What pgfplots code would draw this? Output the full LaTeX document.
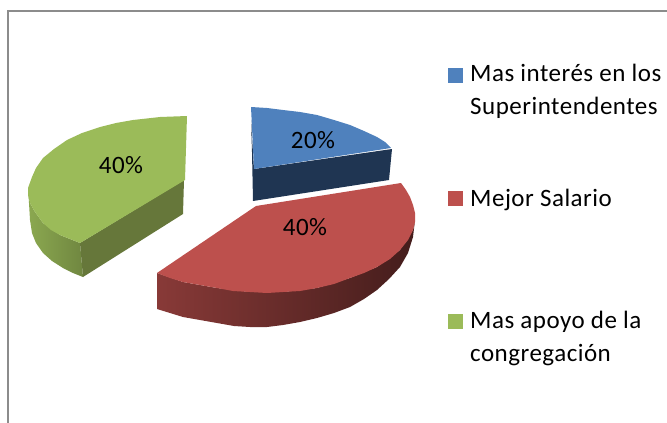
\documentclass[border=0pt]{standalone}
\usepackage{fontspec}
\setmainfont{Carlito}[LetterSpace=2]
\usepackage{pgfplots}
\pgfplotsset{compat=1.18}
\definecolor{azul}{HTML}{4F81BD}
\definecolor{azuloscuro}{HTML}{1F3552}
\definecolor{rojo}{HTML}{BD504D}
\definecolor{verde}{HTML}{9BBB59}
\definecolor{verdeoscuro}{HTML}{66773A}
\definecolor{marco}{HTML}{8C8C8C}
\newcommand{\legendfont}{\fontsize{25bp}{32bp}\selectfont}
\begin{document}
\begin{tikzpicture}[x=1bp,y=1bp]
\begin{axis}[
    scale only axis,
    width=667bp,
    height=423bp,
    xmin=0, xmax=667,
    ymin=0, ymax=423,
    y dir=reverse,
    hide axis,
]
% hide axis drops the box from the bounding box, so keep the full page
\path (rel axis cs:0,0) rectangle (rel axis cs:1,1);

% frame
\addplot[marco,line width=2bp,no marks] coordinates {(667,11) (8,11) (8,423)};

% green slice: outer side, inner side, top
\addplot[draw=none,left color=verde!90!black,right color=verde!72!black,no marks] coordinates {
    (28,188) (29,203) (30,220) (32,233) (36,243) (43,253) (52,261) (63,268) (73,273) (83,277)
    (80,243) (60,235) (43,223) (35,212) (30,203)
} --cycle;
\addplot[fill=verdeoscuro,draw=none,no marks] coordinates {
    (80,243) (83,277) (183,214) (184,180)
} --cycle;
\addplot[fill=verde,draw=none,no marks] coordinates {
    (187,116) (160,117) (133,120) (116,123) (100,127) (82,133) (67,140) (54,149) (43,158)
    (36,168) (32,177) (28,188) (28,195) (30,203) (35,212) (43,223) (51,230) (60,235)
    (70,239) (80,243) (185,180)
} --cycle;

% blue slice
\addplot[fill=azuloscuro,draw=none,no marks] coordinates {
    (251,120) (254,169) (392,149) (389,180) (253,201) (252,152)
} --cycle;
\addplot[fill=azul,draw=none,no marks] coordinates {
    (251,107) (267,108) (283,110) (300,112) (317,115) (334,120) (350,125) (364,131)
    (377,137) (385,142) (391,148) (254,169)
} --cycle;

% red slice
\addplot[draw=none,left color=rojo!72!black,middle color=rojo!42!black,right color=rojo!36!black,no marks] coordinates {
    (157,273) (157,309) (183,317) (200,320) (217,323) (234,326) (250,327) (267,327) (283,325)
    (300,322) (317,318) (334,313) (350,307) (364,299) (377,290) (389,279) (400,267) (408,253) (413,237) (415,220)
    (413,230) (400,250) (377,267) (350,278) (317,288) (283,292) (250,292) (217,288) (183,282)
} --cycle;
\addplot[fill=rojo,draw=none,no marks] coordinates {
    (256,206) (401,183) (406,190) (410,197) (413,205) (415,213) (415,222) (413,230)
    (408,240) (400,250) (390,259) (377,267) (364,273) (350,278) (334,284) (317,288)
    (300,291) (283,292) (267,293) (250,292) (233,291) (217,288) (200,285) (183,282)
    (170,278) (157,273)
} --cycle;

% legend swatches
\addplot[fill=azul,draw=none,no marks] coordinates {(448,68) (463,68) (463,83) (448,83)} --cycle;
\addplot[fill=rojo,draw=none,no marks] coordinates {(448,191) (463,191) (463,206) (448,206)} --cycle;
\addplot[fill=verde,draw=none,no marks] coordinates {(448,314) (463,314) (463,329) (448,329)} --cycle;

\node[anchor=base,font=\legendfont] at (axis cs:121,173) {40\%};
\node[anchor=base,font=\legendfont] at (axis cs:313,148) {20\%};
\node[anchor=base,font=\legendfont] at (axis cs:305,235) {40\%};

\node[anchor=base west,inner sep=0pt,font=\legendfont] at (axis cs:470,82) {Mas interés en los};
\node[anchor=base west,inner sep=0pt,font=\legendfont] at (axis cs:470,114) {Superintendentes};
\node[anchor=base west,inner sep=0pt,font=\legendfont] at (axis cs:470,206) {Mejor Salario};
\node[anchor=base west,inner sep=0pt,font=\legendfont] at (axis cs:470,328) {Mas apoyo de la};
\node[anchor=base west,inner sep=0pt,font=\legendfont] at (axis cs:470,361) {congregación};
\end{axis}
\end{tikzpicture}
\end{document}
